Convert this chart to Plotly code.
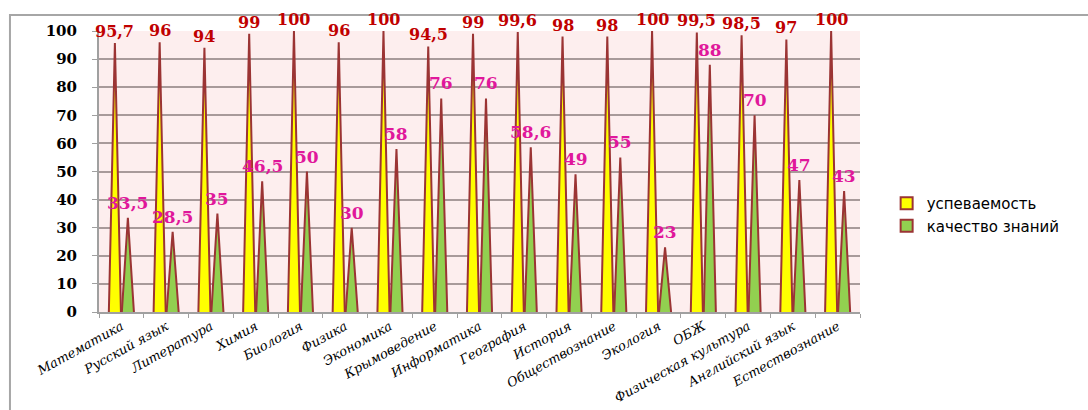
import plotly.graph_objects as go

categories = ["Математика", "Русский язык", "Литература", "Химия", "Биология", "Физика",
              "Экономика", "Крымоведение", "Информатика", "География", "История",
              "Обществознание", "Экология", "ОБЖ", "Физическая культура",
              "Английский язык", "Естествознание"]
uspevaemost = [95.7, 96, 94, 99, 100, 96, 100, 94.5, 99, 99.6, 98, 98, 100, 99.5, 98.5, 97, 100]
kachestvo = [33.5, 28.5, 35, 46.5, 50, 30, 58, 76, 76, 58.6, 49, 55, 23, 88, 70, 47, 43]
y_ticks = [0, 10, 20, 30, 40, 50, 60, 70, 80, 90, 100]

OUTLINE = "#9B3434"
OFFSET = 0.145
HALF = 0.135


def fmt(v):
    s = ("%g" % v)
    return s.replace(".", ",")


def spikes(values, shift):
    xs, ys = [], []
    for i, v in enumerate(values):
        c = i + shift
        xs += [c - HALF, c, c + HALF, None]
        ys += [0, v, 0, None]
    return xs, ys


fig = go.Figure()

series = [
    ("успеваемость", uspevaemost, -OFFSET, "#FFFF00", "#C00000", 16, 0),
    ("качество знаний", kachestvo, OFFSET, "#92D050", "#E0179B", 17, 3),
]

for name, vals, shift, color, lblcolor, fs, ys_ in series:
    xs, ys = spikes(vals, shift)
    fig.add_trace(go.Scatter(
        x=xs, y=ys, mode="lines", fill="toself", fillcolor=color,
        line=dict(color=OUTLINE, width=2), name=name, showlegend=False,
        hoverinfo="skip"))
    # legend proxy
    fig.add_trace(go.Scatter(
        x=[None], y=[None], mode="markers", name=name,
        marker=dict(symbol="square", size=11, color=color,
                    line=dict(color=OUTLINE, width=2))))

annotations = []
for name, vals, shift, color, lblcolor, fs, yshift in series:
    for i, v in enumerate(vals):
        annotations.append(dict(
            x=i + shift, y=v, xref="x", yref="y", text=fmt(v), showarrow=False,
            yanchor="bottom", xanchor="center", yshift=yshift,
            font=dict(family="DejaVu Serif", size=fs, color=lblcolor, weight="bold")))

fig.update_layout(
    width=1088, height=410,
    margin=dict(l=99, r=228, t=31, b=98, autoexpand=False),
    paper_bgcolor="white", plot_bgcolor="#FDEEEE",
    legend=dict(x=1.035, y=0.445, xanchor="left", yanchor="top",
                font=dict(family="DejaVu Sans", size=15, color="black"),
                tracegroupgap=4, itemsizing="constant", bgcolor="rgba(0,0,0,0)"),
    showlegend=True,
    annotations=annotations,
    shapes=[dict(type="rect", xref="paper", yref="paper",
                 x0=-0.117, x1=1.32, y0=-0.4, y1=1.057,
                 line=dict(color="#A6A6A6", width=2), fillcolor="rgba(0,0,0,0)",
                 layer="below")],
)

fig.update_xaxes(
    range=[-0.5, len(categories) - 0.5],
    tickmode="array", tickvals=list(range(len(categories))), ticktext=categories,
    tickangle=-29, ticks="", showgrid=False, zeroline=False, automargin=False,
    tickfont=dict(family="DejaVu Serif", size=13, color="black", style="italic"),
    showline=True, linecolor="#A0A0A0", linewidth=2,
    minor=dict(tickmode="array", tickvals=[i - 0.5 for i in range(len(categories) + 1)],
               ticks="outside", ticklen=4, tickcolor="#A0A0A0", showgrid=False),
    fixedrange=True,
)

fig.update_yaxes(
    range=[0, 100], tickmode="array", tickvals=y_ticks, automargin=False,
    showgrid=True, gridcolor="#A89A9A", gridwidth=2,
    ticks="outside", ticklen=5, tickcolor="#A0A0A0",
    tickfont=dict(family="DejaVu Serif", size=15, color="black", weight="bold"),
    showline=True, linecolor="#A0A0A0", linewidth=2, zeroline=False,
    ticklabelstandoff=12,
    fixedrange=True,
)

fig.write_html("out.html", config={"displayModeBar": False},
               post_script="document.body.style.margin='0';document.body.style.overflow='hidden';")
